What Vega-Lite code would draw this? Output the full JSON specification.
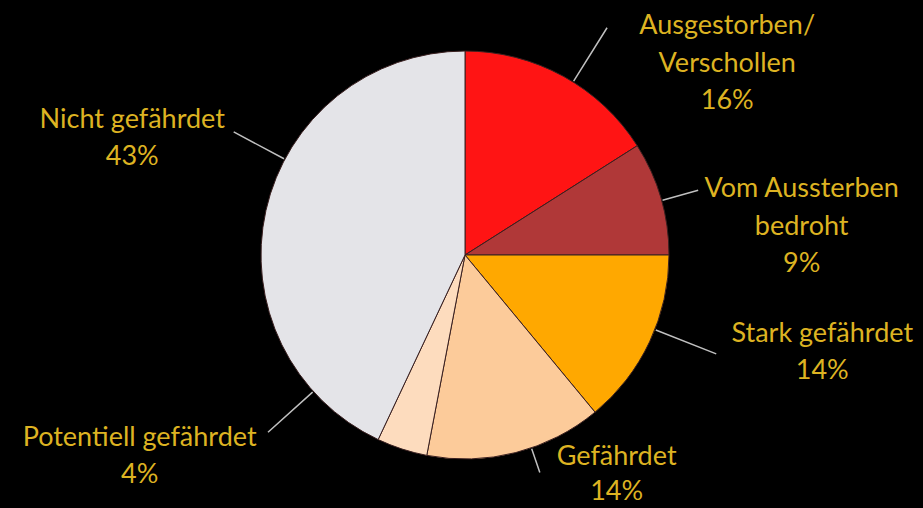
{
  "$schema": "https://vega.github.io/schema/vega-lite/v6.json",
  "width": 916,
  "height": 506,
  "padding": {"left": 7, "top": 2, "right": 0, "bottom": 0},
  "autosize": "none",
  "background": "#000000",
  "config": {"view": {"stroke": null}},
  "data": {
    "values": [
      {"cat": "Ausgestorben/Verschollen", "value": 16, "order": 1, "label": "Ausgestorben/\nVerschollen\n16%"},
      {"cat": "Vom Aussterben bedroht", "value": 9, "order": 2, "label": "Vom Aussterben\nbedroht\n9%"},
      {"cat": "Stark gefährdet", "value": 14, "order": 3, "label": "Stark gefährdet\n14%"},
      {"cat": "Gefährdet", "value": 14, "order": 4, "label": "Gefährdet\n14%"},
      {"cat": "Potentiell gefährdet", "value": 4, "order": 5, "label": "Potentiell gefährdet\n4%"},
      {"cat": "Nicht gefährdet", "value": 43, "order": 6, "label": "Nicht gefährdet\n43%"}
    ]
  },
  "encoding": {
    "theta": {"field": "value", "type": "quantitative", "stack": true, "scale": {"domain": [0, 100]}},
    "order": {"field": "order", "type": "quantitative"}
  },
  "layer": [
    {
      "mark": {"type": "arc", "radius": 204, "stroke": "#3a2020", "strokeWidth": 1},
      "encoding": {
        "color": {
          "field": "cat", "type": "nominal", "legend": null,
          "scale": {
            "domain": ["Ausgestorben/Verschollen", "Vom Aussterben bedroht", "Stark gefährdet", "Gefährdet", "Potentiell gefährdet", "Nicht gefährdet"],
            "range": ["#FF1414", "#B03838", "#FFA800", "#FCCB9A", "#FDDCBE", "#E4E4E8"]
          }
        }
      }
    },
    {
      "mark": {"type": "arc", "radius": 268, "radius2": 205, "padAngle": 3, "thetaOffset": 0.056, "theta2Offset": 0.056, "fill": null, "stroke": "#C0C0C0", "strokeWidth": 1.5},
      "encoding": {"strokeOpacity": {"condition": {"test": "datum.order === 1", "value": 1}, "value": 0}}
    },
    {
      "mark": {"type": "arc", "radius": 242, "radius2": 205, "padAngle": 3, "thetaOffset": 0.012, "theta2Offset": 0.012, "fill": null, "stroke": "#C0C0C0", "strokeWidth": 1.5},
      "encoding": {"strokeOpacity": {"condition": {"test": "datum.order === 2", "value": 1}, "value": 0}}
    },
    {
      "mark": {"type": "arc", "radius": 270, "radius2": 205, "padAngle": 3, "thetaOffset": -0.065, "theta2Offset": -0.065, "fill": null, "stroke": "#C0C0C0", "strokeWidth": 1.5},
      "encoding": {"strokeOpacity": {"condition": {"test": "datum.order === 3", "value": 1}, "value": 0}}
    },
    {
      "mark": {"type": "arc", "radius": 230, "radius2": 205, "padAngle": 3, "thetaOffset": -0.08, "theta2Offset": -0.08, "fill": null, "stroke": "#C0C0C0", "strokeWidth": 1.5},
      "encoding": {"strokeOpacity": {"condition": {"test": "datum.order === 4", "value": 1}, "value": 0}}
    },
    {
      "mark": {"type": "arc", "radius": 265, "radius2": 205, "padAngle": 3, "thetaOffset": 0.524, "theta2Offset": 0.524, "fill": null, "stroke": "#C0C0C0", "strokeWidth": 1.5},
      "encoding": {"strokeOpacity": {"condition": {"test": "datum.order === 5", "value": 1}, "value": 0}}
    },
    {
      "mark": {"type": "arc", "radius": 262, "radius2": 205, "padAngle": 3, "thetaOffset": 0.269, "theta2Offset": 0.269, "fill": null, "stroke": "#C0C0C0", "strokeWidth": 1.5},
      "encoding": {"strokeOpacity": {"condition": {"test": "datum.order === 6", "value": 1}, "value": 0}}
    },
    {
      "mark": {"type": "text", "radius": 260, "dx": 137, "dy": -1, "font": "Lato", "fontSize": 27, "lineHeight": 37.5, "lineBreak": "\n", "align": "center", "baseline": "middle", "fill": "#DDB322"},
      "encoding": {"text": {"condition": {"test": "datum.order === 1", "field": "label", "type": "nominal"}, "value": ""}}
    },
    {
      "mark": {"type": "text", "radius": 260, "dx": 87, "dy": 7, "font": "Lato", "fontSize": 27, "lineHeight": 37.5, "lineBreak": "\n", "align": "center", "baseline": "middle", "fill": "#DDB322"},
      "encoding": {"text": {"condition": {"test": "datum.order === 2", "field": "label", "type": "nominal"}, "value": ""}}
    },
    {
      "mark": {"type": "text", "radius": 260, "dx": 122, "dy": -32, "font": "Lato", "fontSize": 27, "lineHeight": 37.5, "lineBreak": "\n", "align": "center", "baseline": "middle", "fill": "#DDB322"},
      "encoding": {"text": {"condition": {"test": "datum.order === 3", "field": "label", "type": "nominal"}, "value": ""}}
    },
    {
      "mark": {"type": "text", "radius": 260, "dx": 87, "dy": -50, "font": "Lato", "fontSize": 27, "lineHeight": 35, "lineBreak": "\n", "align": "center", "baseline": "middle", "fill": "#DDB322"},
      "encoding": {"text": {"condition": {"test": "datum.order === 4", "field": "label", "type": "nominal"}, "value": ""}}
    },
    {
      "mark": {"type": "text", "radius": 260, "dx": -245, "dy": -64, "font": "Lato", "fontSize": 27, "lineHeight": 37, "lineBreak": "\n", "align": "center", "baseline": "middle", "fill": "#DDB322"},
      "encoding": {"text": {"condition": {"test": "datum.order === 5", "field": "label", "type": "nominal"}, "value": ""}}
    },
    {
      "mark": {"type": "text", "radius": 260, "dx": -79, "dy": -78, "font": "Lato", "fontSize": 27, "lineHeight": 37, "lineBreak": "\n", "align": "center", "baseline": "middle", "fill": "#DDB322"},
      "encoding": {"text": {"condition": {"test": "datum.order === 6", "field": "label", "type": "nominal"}, "value": ""}}
    }
  ]
}
